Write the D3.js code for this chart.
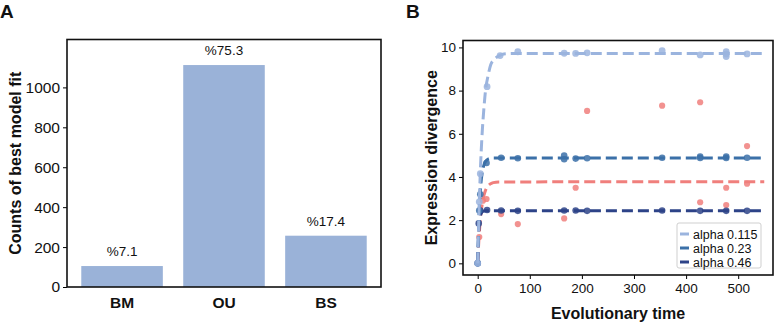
<!DOCTYPE html>
<html>
<head>
<meta charset="utf-8">
<script src="https://cdn.jsdelivr.net/npm/d3@7"></script>
<style>
  body { margin: 0; background: #fff; }
  svg text { font-family: "Liberation Sans", Arial, Helvetica, sans-serif; fill: #111; }
</style>
</head>
<body>
<svg id="chart" width="779" height="323"></svg>
<script>
'use strict';

// panel A: best model fit counts
const models = ["BM", "OU", "BS"];
const modelCounts = [105, 1112, 257];
const modelPercents = ["%7.1", "%75.3", "%17.4"];
const countTicks = [0, 200, 400, 600, 800, 1000];

// panel B: scatter of simulated divergence
const lightT = [0, 3, 5, 18, 43, 77, 166, 188, 210, 354, 427, 477, 477, 477, 517];
const lightY = [0, 2.85, 4.15, 8.18, 9.62, 9.8, 9.73, 9.72, 9.75, 9.85, 9.65, 9.8, 9.58, 9.7, 9.7];
const blueT = [0, 3, 5, 17, 45, 77, 166, 166, 188, 210, 354, 427, 427, 477, 477, 517];
const blueY = [0, 2.45, 3.2, 4.65, 4.89, 4.87, 4.99, 4.82, 4.85, 4.87, 4.89, 4.95, 4.88, 4.95, 4.88, 4.89];
const navyT = [0, 2, 5, 18, 45, 77, 166, 188, 210, 354, 427, 477, 517];
const navyY = [0, 1.85, 2.45, 2.47, 2.45, 2.43, 2.45, 2.45, 2.43, 2.45, 2.43, 2.43, 2.43];
const redT = [3, 10, 17, 45, 77, 166, 188, 210, 354, 427, 427, 477, 477, 517, 517];
const redY = [1.22, 2.9, 2.98, 2.28, 1.82, 2.08, 3.5, 7.06, 7.3, 7.46, 2.83, 3.5, 2.7, 5.43, 3.69];

// fitted curves
const lightCurveT = [0, 3, 6, 9, 12, 15, 20, 25, 30, 40, 50, 70, 550];
const lightCurveY = [0, 2.8, 4.8, 6.2, 7.2, 8.0, 8.7, 9.2, 9.4, 9.6, 9.7, 9.72, 9.72];
const blueCurveT = [0, 3, 6, 9, 12, 15, 20, 30, 550];
const blueCurveY = [0, 2.45, 3.65, 4.25, 4.56, 4.72, 4.83, 4.88, 4.88];
const navyCurveT = [0, 2, 4, 6, 8, 10, 15, 550];
const navyCurveY = [0, 1.46, 2.03, 2.27, 2.37, 2.41, 2.43, 2.43];
const redCurveT = [0, 3, 6, 9, 12, 15, 20, 25, 30, 40, 550];
const redCurveY = [0, 1.37, 2.24, 2.79, 3.15, 3.38, 3.59, 3.69, 3.74, 3.77, 3.78];

const legendLabels = ["alpha 0.115", "alpha 0.23", "alpha 0.46"];
const timeTicks = [0, 100, 200, 300, 400, 500];
const divTicks = [0, 2, 4, 6, 8, 10];

const cLight = "#9bb4de", cBlue = "#3b70a8", cNavy = "#2d4388", cRed = "#f07f7c";

let svg = d3.select("#chart");

// ---------- panel A ----------
let a = { left: 67, right: 381, top: 39.5, bottom: 287 };

let xA = d3.scaleBand()
  .domain(models)
  .range([a.left, a.right])
  .paddingInner(0.2)
  .paddingOuter(0.14);

let yA = d3.scaleLinear()
  .domain([0, 1240])
  .range([a.bottom, a.top]);

svg.append("g").selectAll("rect")
  .data(models)
  .enter().append("rect")
  .attr("x", function (d) { return xA(d); })
  .attr("y", function (d, i) { return yA(modelCounts[i]); })
  .attr("width", xA.bandwidth())
  .attr("height", function (d, i) { return yA(0) - yA(modelCounts[i]); })
  .attr("fill", "#9ab2d8");

svg.append("g").selectAll("text")
  .data(models)
  .enter().append("text")
  .attr("x", function (d) { return xA(d) + xA.bandwidth() / 2; })
  .attr("y", function (d, i) { return yA(modelCounts[i]) - 10; })
  .attr("text-anchor", "middle")
  .style("font-size", "13.5px")
  .text(function (d, i) { return modelPercents[i]; });

let axA = svg.append("g")
  .attr("transform", "translate(" + a.left + ",0)")
  .call(d3.axisLeft(yA).tickValues(countTicks).tickFormat(d3.format("d"))
    .tickSize(4).tickSizeOuter(0).tickPadding(3));
axA.select(".domain").remove();
axA.selectAll("text").style("font-size", "15.5px").attr("fill", "#111");

let axAx = svg.append("g")
  .attr("transform", "translate(0," + a.bottom + ")")
  .call(d3.axisBottom(xA).tickSize(0).tickPadding(10));
axAx.select(".domain").remove();
axAx.selectAll("text").style("font-size", "15.5px").style("font-weight", "bold").attr("fill", "#111");

svg.append("rect")
  .attr("x", a.left).attr("y", a.top)
  .attr("width", a.right - a.left).attr("height", a.bottom - a.top)
  .attr("fill", "none").attr("stroke", "#111").attr("stroke-width", 1.6);

svg.append("text")
  .attr("transform", "translate(21," + ((a.top + a.bottom) / 2) + ") rotate(-90)")
  .attr("text-anchor", "middle")
  .style("font-size", "16px").style("font-weight", "bold")
  .text("Counts of best model fit");

svg.append("text")
  .attr("x", 0).attr("y", 18)
  .style("font-size", "19px").style("font-weight", "bold")
  .text("A");

// ---------- panel B ----------
let b = { left: 463, right: 773, top: 40.5, bottom: 275 };

let xB = d3.scaleLinear().domain([-28.2, 566.8]).range([b.left, b.right]);
let yB = d3.scaleLinear().domain([-0.54, 10.32]).range([b.bottom, b.top]);

let gB = svg.append("g");

let line = d3.line()
  .x(function (d) { return xB(d[0]); })
  .y(function (d) { return yB(d[1]); })
  .curve(d3.curveMonotoneX);

function drawSeries(ts, ys, cts, cys, color, r) {
  let pts = d3.zip(ts, ys);
  gB.append("g").selectAll("circle")
    .data(pts)
    .enter().append("circle")
    .attr("cx", function (d) { return xB(d[0]); })
    .attr("cy", function (d) { return yB(d[1]); })
    .attr("r", r)
    .attr("fill", color)
    .attr("fill-opacity", 0.85);
  gB.append("path")
    .datum(d3.zip(cts, cys))
    .attr("d", line)
    .attr("fill", "none")
    .attr("stroke", color)
    .attr("stroke-width", 3)
    .attr("stroke-dasharray", "11,5");
}

drawSeries(redT, redY, redCurveT, redCurveY, cRed, 3.1);
drawSeries(navyT, navyY, navyCurveT, navyCurveY, cNavy, 3.3);
drawSeries(blueT, blueY, blueCurveT, blueCurveY, cBlue, 3.3);
drawSeries(lightT, lightY, lightCurveT, lightCurveY, cLight, 3.4);

let axBx = svg.append("g")
  .attr("transform", "translate(0," + b.bottom + ")")
  .call(d3.axisBottom(xB).tickValues(timeTicks).tickSize(4).tickPadding(4));
axBx.select(".domain").remove();
axBx.selectAll("text").style("font-size", "13.5px").attr("fill", "#111");

let axBy = svg.append("g")
  .attr("transform", "translate(" + b.left + ",0)")
  .call(d3.axisLeft(yB).tickValues(divTicks).tickSize(4).tickPadding(3));
axBy.select(".domain").remove();
axBy.selectAll("text").style("font-size", "13.5px").attr("fill", "#111");

svg.append("rect")
  .attr("x", b.left).attr("y", b.top)
  .attr("width", b.right - b.left).attr("height", b.bottom - b.top)
  .attr("fill", "none").attr("stroke", "#111").attr("stroke-width", 1.6);

// legend
let lg = svg.append("g").attr("transform", "translate(677,223)");
lg.append("rect")
  .attr("width", 84).attr("height", 45).attr("rx", 2)
  .attr("fill", "#fff").attr("fill-opacity", 0.85)
  .attr("stroke", "#cfcfcf");
[cLight, cBlue, cNavy].forEach(function (c, i) {
  lg.append("line")
    .attr("x1", 3).attr("x2", 12)
    .attr("y1", 11 + i * 14).attr("y2", 11 + i * 14)
    .attr("stroke", c).attr("stroke-width", 3);
  lg.append("text")
    .attr("x", 16).attr("y", 15.5 + i * 14)
    .style("font-size", "12.5px")
    .text(legendLabels[i]);
});

svg.append("text")
  .attr("transform", "translate(437," + ((b.top + b.bottom) / 2) + ") rotate(-90)")
  .attr("text-anchor", "middle")
  .style("font-size", "16px").style("font-weight", "bold")
  .text("Expression divergence");

svg.append("text")
  .attr("x", (b.left + b.right) / 2).attr("y", 319)
  .attr("text-anchor", "middle")
  .style("font-size", "16px").style("font-weight", "bold")
  .text("Evolutionary time");

svg.append("text")
  .attr("x", 406).attr("y", 18)
  .style("font-size", "19px").style("font-weight", "bold")
  .text("B");
</script>
</body>
</html>
